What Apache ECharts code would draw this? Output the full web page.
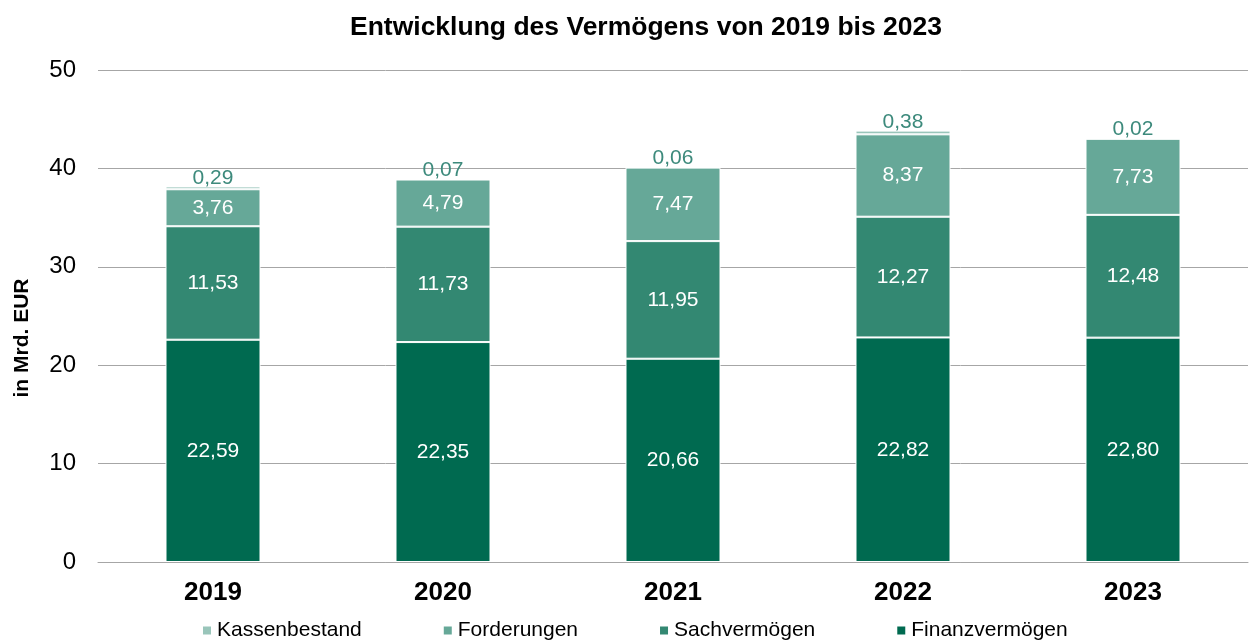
<!DOCTYPE html>
<html>
<head>
<meta charset="utf-8">
<script src="https://cdn.jsdelivr.net/npm/echarts@6/dist/echarts.min.js"></script>
<style>
  html, body { margin: 0; padding: 0; background: #fff; }
  #chart { width: 1249px; height: 644px; }
</style>
</head>
<body>
<div id="chart"></div>
<script>
const years = ['2019', '2020', '2021', '2022', '2023'];
const finanzvermoegen = [22.59, 22.35, 20.66, 22.82, 22.80];
const sachvermoegen = [11.53, 11.73, 11.95, 12.27, 12.48];
const forderungen = [3.76, 4.79, 7.47, 8.37, 7.73];
const kassenbestand = [0.29, 0.07, 0.06, 0.38, 0.02];

const font = 'Liberation Sans, Arial, sans-serif';
const fmt = (p) => p.value.toFixed(2).replace('.', ',');

const bar = (name, data, color, label) => ({
  name,
  type: 'bar',
  stack: 'total',
  data,
  barWidth: 95,
  itemStyle: { color, borderColor: '#fff', borderWidth: 1 },
  label,
});

const insideLabel = {
  show: true,
  position: 'inside',
  color: '#fff',
  fontFamily: font,
  fontSize: 21,
  formatter: fmt,
};

const chart = echarts.init(document.getElementById('chart'));
chart.setOption({
  animation: false,
  textStyle: { fontFamily: font },
  title: {
    text: 'Entwicklung des Vermögens von 2019 bis 2023',
    left: 641,
    textAlign: 'center',
    top: 9,
    textStyle: { fontFamily: font, fontSize: 26.5, fontWeight: 'bold', color: '#000' },
  },
  legend: {
    bottom: -2,
    left: 196,
    itemWidth: 10,
    itemHeight: 10,
    itemGap: 80,
    icon: 'rect',
    textStyle: { fontFamily: font, fontSize: 21, color: '#000' },
    data: ['Kassenbestand', 'Forderungen', 'Sachvermögen', 'Finanzvermögen'],
  },
  grid: { left: 98, right: 1, top: 70, bottom: 82 },
  xAxis: {
    type: 'category',
    data: years,
    axisTick: { show: false },
    axisLine: { lineStyle: { color: '#a6a6a6' } },
    axisLabel: { fontFamily: font, fontSize: 26, fontWeight: 'bold', color: '#000', margin: 18 },
  },
  yAxis: {
    type: 'value',
    min: 0,
    max: 50,
    interval: 10,
    axisLabel: { fontFamily: font, fontSize: 24, color: '#000', margin: 22 },
    splitLine: { lineStyle: { color: '#a6a6a6' } },
  },
  graphic: [{
    type: 'text',
    x: 22,
    y: 338,
    rotation: Math.PI / 2,
    style: {
      text: 'in Mrd. EUR',
      font: 'bold 21px ' + font,
      fill: '#000',
      align: 'center',
      verticalAlign: 'middle',
    },
  }],
  series: [
    bar('Finanzvermögen', finanzvermoegen, '#006a50', insideLabel),
    bar('Sachvermögen', sachvermoegen, '#338872', insideLabel),
    bar('Forderungen', forderungen, '#66a898', insideLabel),
    bar('Kassenbestand', kassenbestand, '#99c5ba', {
      show: true,
      position: 'top',
      distance: -2,
      color: '#3d8a7c',
      fontFamily: font,
      fontSize: 21,
      formatter: fmt,
    }),
  ],
});
</script>
</body>
</html>
